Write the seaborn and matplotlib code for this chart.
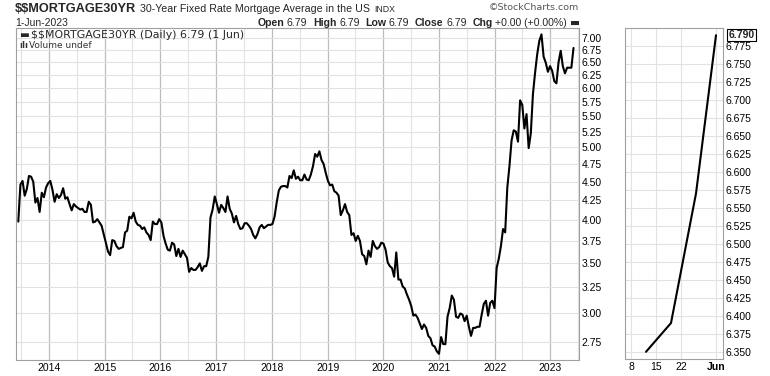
import numpy as np
import pandas as pd
import matplotlib
matplotlib.use('Agg')
import matplotlib.pyplot as plt
import seaborn as sns
from matplotlib.ticker import FixedLocator, FormatStrFormatter, NullLocator, NullFormatter

# 30-year fixed mortgage rate, every two weeks (Thursdays from 13-Jun-2013)
rates_2013 = [3.98, 4.46, 4.51, 4.31, 4.40, 4.58, 4.57, 4.50, 4.22, 4.28, 4.10, 4.35, 4.29, 4.42, 4.48]
rates_2014 = [4.51, 4.39, 4.23, 4.33, 4.28, 4.32, 4.41, 4.27, 4.29, 4.20, 4.12, 4.20, 4.17,
              4.15, 4.13, 4.14, 4.10, 4.10, 4.23, 4.19, 3.97, 3.98, 4.01, 3.97, 3.93, 3.83]
rates_2015 = [3.73, 3.63, 3.59, 3.76, 3.75, 3.69, 3.66, 3.67, 3.68, 3.85, 3.87, 4.04, 4.02,
              4.09, 3.98, 3.94, 3.93, 3.89, 3.91, 3.85, 3.82, 3.76, 3.98, 3.95, 3.95, 4.01]
rates_2016 = [3.97, 3.81, 3.72, 3.65, 3.64, 3.73, 3.71, 3.58, 3.66, 3.57, 3.64, 3.60, 3.56,
              3.41, 3.45, 3.43, 3.43, 3.46, 3.50, 3.42, 3.47, 3.47, 3.57, 4.03, 4.13, 4.30]
rates_2017 = [4.20, 4.09, 4.19, 4.15, 4.10, 4.30, 4.14, 4.08, 3.97, 4.05, 3.95, 3.89, 3.90,
              3.96, 3.96, 3.93, 3.89, 3.82, 3.78, 3.83, 3.91, 3.94, 3.90, 3.92, 3.94, 3.94]
rates_2018 = [3.95, 4.04, 4.22, 4.38, 4.43, 4.44, 4.44, 4.42, 4.58, 4.55, 4.66, 4.54, 4.57,
              4.52, 4.52, 4.60, 4.53, 4.52, 4.60, 4.72, 4.90, 4.86, 4.94, 4.81, 4.75, 4.62]
rates_2019 = [4.51, 4.45, 4.46, 4.37, 4.35, 4.31, 4.06, 4.12, 4.20, 4.10, 4.06, 3.82, 3.84,
              3.75, 3.81, 3.75, 3.60, 3.58, 3.49, 3.64, 3.57, 3.75, 3.69, 3.66, 3.68, 3.73]
rates_2020 = [3.72, 3.65, 3.51, 3.47, 3.45, 3.36, 3.62, 3.33, 3.33, 3.26, 3.24, 3.18, 3.13,
              3.07, 2.98, 2.99, 2.96, 2.91, 2.86, 2.90, 2.87, 2.80, 2.78, 2.72, 2.71, 2.67, 2.65]
rates_2021 = [2.79, 2.73, 2.73, 2.97, 3.05, 3.17, 3.13, 2.97, 2.96, 3.00, 2.99, 2.93, 2.98,
              2.88, 2.80, 2.87, 2.87, 2.88, 2.88, 2.99, 3.09, 3.12, 2.98, 3.10, 3.12, 3.05]
rates_2022 = [3.45, 3.55, 3.69, 3.89, 3.85, 4.42, 4.72, 5.11, 5.27, 5.25, 5.09, 5.78, 5.70,
              5.30, 5.54, 4.99, 5.22, 5.89, 6.29, 6.66, 6.94, 7.08, 6.61, 6.49, 6.31, 6.42]
rates_2023 = [6.33, 6.13, 6.09, 6.50, 6.73, 6.42, 6.28, 6.39, 6.39, 6.39, 6.79]

# last few weeks (right panel)
recent_dates = ['2023-05-11', '2023-05-18', '2023-05-25', '2023-06-01']
recent_rates = [6.35, 6.39, 6.57, 6.79]

year_labels = ['2014', '2015', '2016', '2017', '2018', '2019', '2020', '2021', '2022', '2023']
main_yticks = [2.75, 3.00, 3.25, 3.50, 3.75, 4.00, 4.25, 4.50, 4.75, 5.00, 5.25, 5.50,
               5.75, 6.00, 6.25, 6.50, 6.75, 7.00]
recent_yticks = [6.350, 6.375, 6.400, 6.425, 6.450, 6.475, 6.500, 6.525, 6.550, 6.575,
                 6.600, 6.625, 6.650, 6.675, 6.700, 6.725, 6.750, 6.775]
recent_tick_dates = ['2023-05-08', '2023-05-15', '2023-05-22', '2023-06-01']
recent_tick_labels = ['8', '15', '22', 'Jun']
holidays = ['2023-05-29']

rates = (rates_2013 + rates_2014 + rates_2015 + rates_2016 + rates_2017 + rates_2018
         + rates_2019 + rates_2020 + rates_2021 + rates_2022 + rates_2023)
main = pd.DataFrame({'date': pd.date_range('2013-06-13', periods=len(rates), freq='14D'),
                     'rate': rates})

# right panel uses a trading-day axis
recent = pd.DataFrame({'day': np.busday_count('2023-05-08', recent_dates, holidays=holidays),
                       'rate': recent_rates})
recent_ticks = np.busday_count('2023-05-08', recent_tick_dates, holidays=holidays)

sns.set_theme(style='white')
plt.rcParams['font.family'] = ['Liberation Sans', 'DejaVu Sans']

W, H = 770, 376
fig = plt.figure(figsize=(W / 100, H / 100), dpi=100)
fig.patch.set_facecolor('white')


def px(x, y):
    return x / W, 1 - y / H


ax = fig.add_axes([16 / W, 1 - 360 / H, (579 - 16) / W, (360 - 28) / H])
ax2 = fig.add_axes([625 / W, 1 - 359 / H, (723 - 625) / W, (359 - 28) / H])

grid_major = '#bdbdbd'
grid_minor = '#e2e2e2'
spine_col = '#a0a0a0'

# ---- main chart ----
sns.lineplot(data=main, x='date', y='rate', ax=ax, color='black', linewidth=1.5)
ax.set_yscale('log')
ax.set_ylim(2.60, 7.22)
ax.set_xlim(pd.Timestamp('2013-05-29'), pd.Timestamp('2023-07-07'))
ax.yaxis.tick_right()
ax.yaxis.set_major_locator(FixedLocator(main_yticks))
ax.yaxis.set_major_formatter(FormatStrFormatter('%.2f'))
ax.yaxis.set_minor_locator(NullLocator())
ax.yaxis.set_minor_formatter(NullFormatter())
ax.set_xticks(pd.to_datetime([f'{y}-01-01' for y in year_labels]))
ax.set_xticklabels(year_labels)
ax.set_xticks(pd.to_datetime([f'{y}-07-01' for y in ['2013'] + year_labels]), minor=True)
ax.grid(which='major', axis='x', color=grid_major, linewidth=0.9)
ax.grid(which='minor', axis='x', color=grid_minor, linewidth=0.8)
ax.grid(which='major', axis='y', color=grid_minor, linewidth=0.8)
ax.set_axisbelow(True)
ax.set_xlabel('')
ax.set_ylabel('')
ax.tick_params(axis='both', which='both', length=0, labelsize=7.5, pad=2, colors='black')

# ---- right panel ----
sns.lineplot(data=recent, x='day', y='rate', ax=ax2, color='black', linewidth=1.5)
ax2.set_xlim(-1.2, 18.4)
ax2.set_ylim(6.340, 6.800)
ax2.yaxis.tick_right()
ax2.set_yticks(recent_yticks)
ax2.yaxis.set_major_formatter(FormatStrFormatter('%.3f'))
ax2.set_xticks(recent_ticks)
ax2.set_xticklabels(recent_tick_labels)
ax2.get_xticklabels()[-1].set_fontweight('bold')
ax2.grid(which='major', color=grid_minor, linewidth=0.8)
ax2.set_axisbelow(True)
ax2.set_xlabel('')
ax2.set_ylabel('')
ax2.tick_params(axis='both', length=0, labelsize=7.5, pad=2, colors='black')
ax2.annotate('6.790', xy=(1, recent_rates[-1]), xycoords=('axes fraction', 'data'),
             xytext=(4, 0), textcoords='offset points', va='center', ha='left',
             fontsize=7.5, fontweight='bold', annotation_clip=False,
             bbox=dict(boxstyle='square,pad=0.12', fc='white', ec='black', lw=0.8))

for a in (ax, ax2):
    for s in a.spines.values():
        s.set_color(spine_col)
        s.set_linewidth(0.8)

# ---- header ----
t = fig.text(*px(15, 9), '\\$\\$MORTGAGE30YR', fontsize=9.2, fontweight='bold', va='center')
t = ax.annotate('30-Year Fixed Rate Mortgage Average in the US', xy=(1, 0.5), xycoords=t,
                xytext=(2.5, 0), textcoords='offset points', va='center', fontsize=7.7,
                annotation_clip=False)
ax.annotate('INDX', xy=(1, 0.5), xycoords=t, xytext=(3, -0.3), textcoords='offset points',
            va='center', fontsize=6.3, annotation_clip=False)
fig.text(*px(579, 8), '\u00a9StockCharts.com', fontsize=6.8, ha='right', va='center',
         color='#555555', family='DejaVu Sans')
fig.text(*px(15, 23), '1-Jun-2023', fontsize=7.5, va='center')

row = [('Open', 'bold', 0), ('6.79', 'normal', 2.0), ('High', 'bold', 4.0), ('6.79', 'normal', 2.0),
       ('Low', 'bold', 4.0), ('6.79', 'normal', 2.0), ('Close', 'bold', 4.0), ('6.79', 'normal', 2.0),
       ('Chg', 'bold', 4.0), ('+0.00 (+0.00%)', 'normal', 2.0), ('\u25ac', 'bold', 1.5)]
t = fig.text(*px(579, 23), row[-1][0], fontsize=7.6, fontweight='bold', ha='right', va='center',
             family='DejaVu Sans')
gap = row[-1][2]
for s, wt, g in reversed(row[:-1]):
    t = ax.annotate(s, xy=(0, 0.5), xycoords=t, xytext=(-gap, 0), textcoords='offset points',
                    ha='right', va='center', fontsize=7.6, fontweight=wt, annotation_clip=False)
    gap = g

# in-chart legend
fig.text(*px(19, 35), '\u25ac', fontsize=7.5, va='center', family='DejaVu Sans')
fig.text(*px(31, 35), '\\$\\$MORTGAGE30YR (Daily) 6.79 (1 Jun)', fontsize=7.9, va='center',
         family='DejaVu Sans')
fig.text(*px(19, 45.5), '\u0131l\u0131', fontsize=6, va='center', fontweight='bold',
         family='DejaVu Sans', color='#333333')
fig.text(*px(29, 45.5), 'Volume undef', fontsize=6.5, va='center', family='DejaVu Sans',
         color='#333333')

fig.savefig('out.png', dpi=100, facecolor='white')
